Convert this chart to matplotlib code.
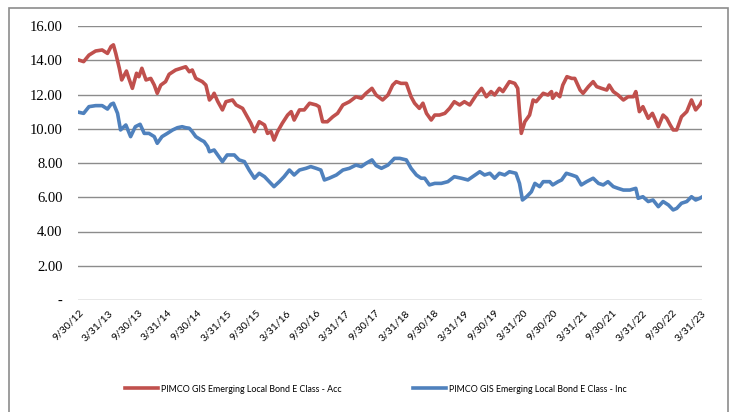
import numpy as np
import pandas as pd
import matplotlib
matplotlib.use("Agg")
import matplotlib.pyplot as plt
from matplotlib.patches import Rectangle

# fechas en años decimales
acc_years = [2012.75, 2012.83, 2012.92, 2013.03, 2013.14, 2013.23, 2013.29, 2013.33, 2013.37, 2013.43,
             2013.47, 2013.55, 2013.59, 2013.65, 2013.72, 2013.76, 2013.81, 2013.88, 2013.96, 2014.02,
             2014.07, 2014.13, 2014.21, 2014.27, 2014.38, 2014.47, 2014.55, 2014.61, 2014.66, 2014.72,
             2014.83, 2014.89, 2014.95, 2015.00, 2015.03, 2015.09, 2015.17, 2015.23, 2015.34, 2015.40,
             2015.51, 2015.59, 2015.65, 2015.71, 2015.79, 2015.88, 2015.93, 2015.99, 2016.04, 2016.10,
             2016.18, 2016.27, 2016.33, 2016.38, 2016.47, 2016.55, 2016.64, 2016.75, 2016.80, 2016.86,
             2016.94, 2017.03, 2017.11, 2017.20, 2017.31, 2017.42, 2017.51, 2017.59, 2017.69, 2017.76,
             2017.87, 2017.96, 2018.04, 2018.10, 2018.18, 2018.27, 2018.35, 2018.41, 2018.49, 2018.55,
             2018.61, 2018.69, 2018.75, 2018.83, 2018.92, 2019.00, 2019.08, 2019.17, 2019.25, 2019.34,
             2019.45, 2019.54, 2019.62, 2019.70, 2019.76, 2019.84, 2019.90, 2020.01, 2020.10, 2020.15,
             2020.18, 2020.21, 2020.27, 2020.35, 2020.41, 2020.46, 2020.58, 2020.66, 2020.72, 2020.74,
             2020.80, 2020.86, 2020.91, 2020.98, 2021.06, 2021.11, 2021.20, 2021.25, 2021.34, 2021.42,
             2021.48, 2021.56, 2021.65, 2021.69, 2021.76, 2021.84, 2021.93, 2022.01, 2022.10, 2022.14,
             2022.20, 2022.26, 2022.35, 2022.42, 2022.52, 2022.60, 2022.66, 2022.72, 2022.77, 2022.83,
             2022.91, 2023.00, 2023.08, 2023.15, 2023.22, 2023.25]
acc_values = [14.01, 13.92, 14.30, 14.54, 14.60, 14.40, 14.80, 14.90, 14.40, 13.53,
              12.85, 13.37, 12.95, 12.36, 13.24, 13.04, 13.53, 12.85, 12.94, 12.55,
              12.07, 12.55, 12.75, 13.18, 13.43, 13.53, 13.62, 13.33, 13.43, 12.94,
              12.75, 12.55, 11.68, 11.87, 12.07, 11.60, 11.10, 11.58, 11.68, 11.39,
              11.19, 10.70, 10.32, 9.83, 10.41, 10.22, 9.73, 9.83, 9.34, 9.83,
              10.32, 10.80, 11.00, 10.51, 11.10, 11.10, 11.49, 11.39, 11.29, 10.41,
              10.41, 10.70, 10.90, 11.39, 11.58, 11.87, 11.78, 12.07, 12.36, 11.97,
              11.68, 11.97, 12.55, 12.75, 12.65, 12.65, 11.87, 11.49, 11.19, 11.49,
              10.90, 10.51, 10.80, 10.80, 10.90, 11.19, 11.58, 11.39, 11.58, 11.39,
              11.97, 12.36, 11.87, 12.17, 11.97, 12.36, 12.17, 12.75, 12.65, 12.36,
              11.00, 9.73, 10.41, 10.80, 11.68, 11.58, 12.07, 11.97, 12.17, 11.78,
              12.07, 11.87, 12.55, 13.04, 12.94, 12.94, 12.26, 12.07, 12.46, 12.75,
              12.46, 12.36, 12.26, 12.55, 12.17, 11.97, 11.68, 11.87, 11.87, 12.17,
              11.00, 11.29, 10.61, 10.90, 10.12, 10.80, 10.61, 10.22, 9.93, 9.93,
              10.70, 11.00, 11.68, 11.10, 11.39, 11.58]

inc_years = [2012.75, 2012.83, 2012.92, 2013.03, 2013.14, 2013.23, 2013.29, 2013.33, 2013.40, 2013.45,
             2013.54, 2013.62, 2013.70, 2013.78, 2013.85, 2013.93, 2014.02, 2014.07, 2014.15, 2014.24,
             2014.33, 2014.41, 2014.49, 2014.55, 2014.61, 2014.66, 2014.72, 2014.81, 2014.86, 2014.92,
             2014.95, 2015.03, 2015.09, 2015.17, 2015.25, 2015.37, 2015.45, 2015.54, 2015.62, 2015.71,
             2015.79, 2015.88, 2015.96, 2016.04, 2016.13, 2016.21, 2016.30, 2016.38, 2016.47, 2016.58,
             2016.66, 2016.75, 2016.83, 2016.89, 2016.97, 2017.09, 2017.20, 2017.31, 2017.42, 2017.51,
             2017.59, 2017.69, 2017.76, 2017.85, 2017.96, 2018.07, 2018.16, 2018.27, 2018.35, 2018.44,
             2018.52, 2018.58, 2018.66, 2018.75, 2018.86, 2018.97, 2019.08, 2019.20, 2019.31, 2019.39,
             2019.51, 2019.59, 2019.68, 2019.76, 2019.84, 2019.93, 2020.01, 2020.12, 2020.18, 2020.23,
             2020.30, 2020.38, 2020.44, 2020.52, 2020.58, 2020.69, 2020.74, 2020.83, 2020.89, 2020.97,
             2021.06, 2021.14, 2021.22, 2021.31, 2021.42, 2021.51, 2021.59, 2021.67, 2021.76, 2021.84,
             2021.93, 2022.04, 2022.14, 2022.18, 2022.26, 2022.35, 2022.43, 2022.52, 2022.60, 2022.69,
             2022.77, 2022.83, 2022.91, 2023.00, 2023.08, 2023.15, 2023.22, 2023.25]
inc_values = [10.96, 10.90, 11.29, 11.35, 11.35, 11.15, 11.43, 11.49, 10.90, 9.93,
              10.22, 9.54, 10.12, 10.26, 9.73, 9.73, 9.54, 9.15, 9.54, 9.73,
              9.93, 10.06, 10.12, 10.06, 10.03, 9.83, 9.54, 9.34, 9.25, 8.96,
              8.66, 8.76, 8.47, 8.08, 8.47, 8.47, 8.18, 8.08, 7.59, 7.11,
              7.40, 7.20, 6.91, 6.62, 6.91, 7.20, 7.59, 7.30, 7.59, 7.69,
              7.79, 7.69, 7.59, 7.01, 7.11, 7.30, 7.59, 7.69, 7.88, 7.79,
              7.98, 8.18, 7.85, 7.69, 7.88, 8.27, 8.27, 8.18, 7.69, 7.30,
              7.11, 7.11, 6.72, 6.81, 6.81, 6.91, 7.20, 7.11, 7.01, 7.20,
              7.49, 7.30, 7.40, 7.11, 7.40, 7.30, 7.49, 7.40, 6.81, 5.84,
              6.03, 6.32, 6.81, 6.62, 6.91, 6.91, 6.72, 6.91, 7.01, 7.40,
              7.30, 7.20, 6.72, 6.91, 7.11, 6.81, 6.72, 6.91, 6.62, 6.52,
              6.42, 6.42, 6.52, 5.94, 6.03, 5.75, 5.84, 5.45, 5.75, 5.55,
              5.26, 5.35, 5.65, 5.75, 6.03, 5.84, 5.94, 6.00]

acc_label = "PIMCO GIS Emerging Local Bond E Class - Acc"
inc_label = "PIMCO GIS Emerging Local Bond E Class - Inc"

tick_dates = pd.date_range("2012-09-30", "2023-03-31", freq="6ME")
y_ticks = [0, 2, 4, 6, 8, 10, 12, 14, 16]
y_labels = ["-", "2.00", "4.00", "6.00", "8.00", "10.00", "12.00", "14.00", "16.00"]


def a_fecha(years):
    years = np.asarray(years)
    base = pd.to_datetime([f"{int(y)}-01-01" for y in years])
    return base + pd.to_timedelta((years - years.astype(int)) * 365.25, unit="D")


acc_color = "#C0504D"
inc_color = "#4F81BD"

fig = plt.figure(figsize=(7.35, 4.12), dpi=100)
ax = fig.add_axes([78 / 735, 1 - 300 / 412, (702 - 78) / 735, (300 - 26) / 412])

ax.plot(a_fecha(acc_years), acc_values, color=acc_color, lw=2.6, label=acc_label, solid_joinstyle="round")
ax.plot(a_fecha(inc_years), inc_values, color=inc_color, lw=2.6, label=inc_label, solid_joinstyle="round")

ax.set_ylim(0, 16)
ax.set_xlim(a_fecha([2012.735])[0], a_fecha([2023.257])[0])
ax.set_yticks(y_ticks)
ax.set_yticklabels(y_labels, fontfamily="Liberation Serif", fontsize=10.5)
ax.set_xticks(tick_dates)
ax.set_xticklabels([f"{d.month}/{d.day}/{d.strftime('%y')}" for d in tick_dates],
                   rotation=45, ha="right", va="top", rotation_mode="anchor",
                   fontfamily="Lato", fontsize=7.5)
ax.tick_params(axis="both", length=0)
ax.tick_params(axis="y", pad=11)
ax.tick_params(axis="x", pad=6)
ax.grid(axis="y", color="#8c8c8c", lw=1)
ax.set_axisbelow(True)
for s in ax.spines.values():
    s.set_visible(False)

# marco exterior del gráfico
fig.patches.append(Rectangle((9 / 735, -0.05), (728 - 9) / 735, 1.05 - 8 / 412,
                             transform=fig.transFigure, fill=False, ec="#8c8c8c", lw=1.2))

fig.legend(loc="center", bbox_to_anchor=(376 / 735, 23 / 412), ncol=2, frameon=False,
           handlelength=3.7, handletextpad=0.35, columnspacing=8.0,
           prop={"family": "Lato", "size": 6.4})

plt.savefig("out.png", dpi=100)
